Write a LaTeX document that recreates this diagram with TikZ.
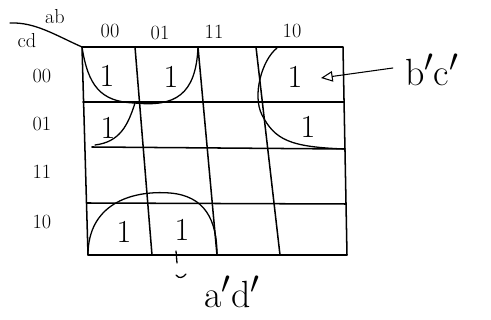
\documentclass[tikz,border=0pt]{standalone}
\usepackage{tikz}
\usetikzlibrary{arrows.meta, calc}

\begin{document}
\begin{tikzpicture}[x=0.03cm, y=-0.03cm, line cap=round, line join=round,
                    grid line/.style={line width=1.3pt},
                    loop line/.style={line width=1.1pt},
                    one/.style={font=\Huge, inner sep=0pt, scale=1.1},
                    head/.style={font=\LARGE, inner sep=0pt},
                    term/.style={font=\Huge, inner sep=0pt, scale=1.3}]
    \useasboundingbox (0,0) rectangle (491,320);

    % Grid corners
    \coordinate (t0) at (82,47);  \coordinate (b0) at (88,255);
    \coordinate (t1) at (135,47); \coordinate (b1) at (152,255);
    \coordinate (t2) at (198,47); \coordinate (b2) at (217,255);
    \coordinate (t3) at (256,47); \coordinate (b3) at (280,255);
    \coordinate (t4) at (343,47); \coordinate (b4) at (347,255);
    \coordinate (l1) at (83,102);  \coordinate (r1) at (344,102);
    \coordinate (l2) at (92,147);  \coordinate (r2) at (345,149);
    \coordinate (l3) at (87,203);  \coordinate (r3) at (346,204);

    % Grid
    \draw[grid line] (t0) -- (t4) -- (b4) -- (b0) -- cycle;
    \foreach \i in {1,2,3} {
        \draw[grid line] (t\i) -- (b\i);
        \draw[grid line] (l\i) -- (r\i);
    }

    % Corner label
    \coordinate (c0) at (10,23);
    \draw[loop line] (c0) .. controls (35,22) and (55,35) .. (t0);
    \node[head] (ab) at (55,17) {ab};
    \node[head] (cd) at (27,41) {cd};

    % Column headers
    \node[head] (h00) at (110,31) {00};
    \node[head] (h01) at (160,33) {01};
    \node[head] (h11) at (214,32) {11};
    \node[head] (h10) at (292,31) {10};

    % Row headers
    \node[head] (v00) at (42,76) {00};
    \node[head] (v01) at (42,124) {01};
    \node[head] (v11) at (42,172) {11};
    \node[head] (v10) at (42,222) {10};

    % Ones
    \node[one] (m0) at (107,76) {1};
    \node[one] (m4) at (171,77) {1};
    \node[one] (m8) at (295,77) {1};
    \node[one] (m9) at (308,127) {1};
    \node[one] (m1) at (108,128) {1};
    \node[one] (m2) at (124,232) {1};
    \node[one] (m6) at (182,230) {1};

    % Loops
    \draw[loop line] (t0) .. controls (88,85) and (100,102) .. (135,103)
        .. controls (175,107) and (196,95) .. (t2);
    \draw[loop line] (135,103) .. controls (128,125) and (120,142) .. (95,145);
    \draw[loop line] (277,48) .. controls (262,60) and (252,95) .. (262,115)
        .. controls (275,140) and (290,147) .. (r2);
    \draw[loop line] (b0) .. controls (88,205) and (130,190) .. (170,193)
        .. controls (205,196) and (217,220) .. (b2);

    % Terms
    \node[term] (bc) at (432,70) {b$'$c$'$};
    \coordinate (bctip) at (321,78);
    \draw[line width=0.9pt, -{Triangle[open, length=10pt, width=9pt]}]
        (bc.west) ++(-12,-2) -- (bctip);

    \node[term] (ad) at (232,292) {a$'$d$'$};
    \coordinate (adtip) at (176,251);
    \coordinate (adend) at (177,263);
    \draw[loop line] (adtip) -- (adend);
    \draw[loop line] (176,275) .. controls (179,279) and (183,278) .. (186,274);
\end{tikzpicture}
\end{document}
